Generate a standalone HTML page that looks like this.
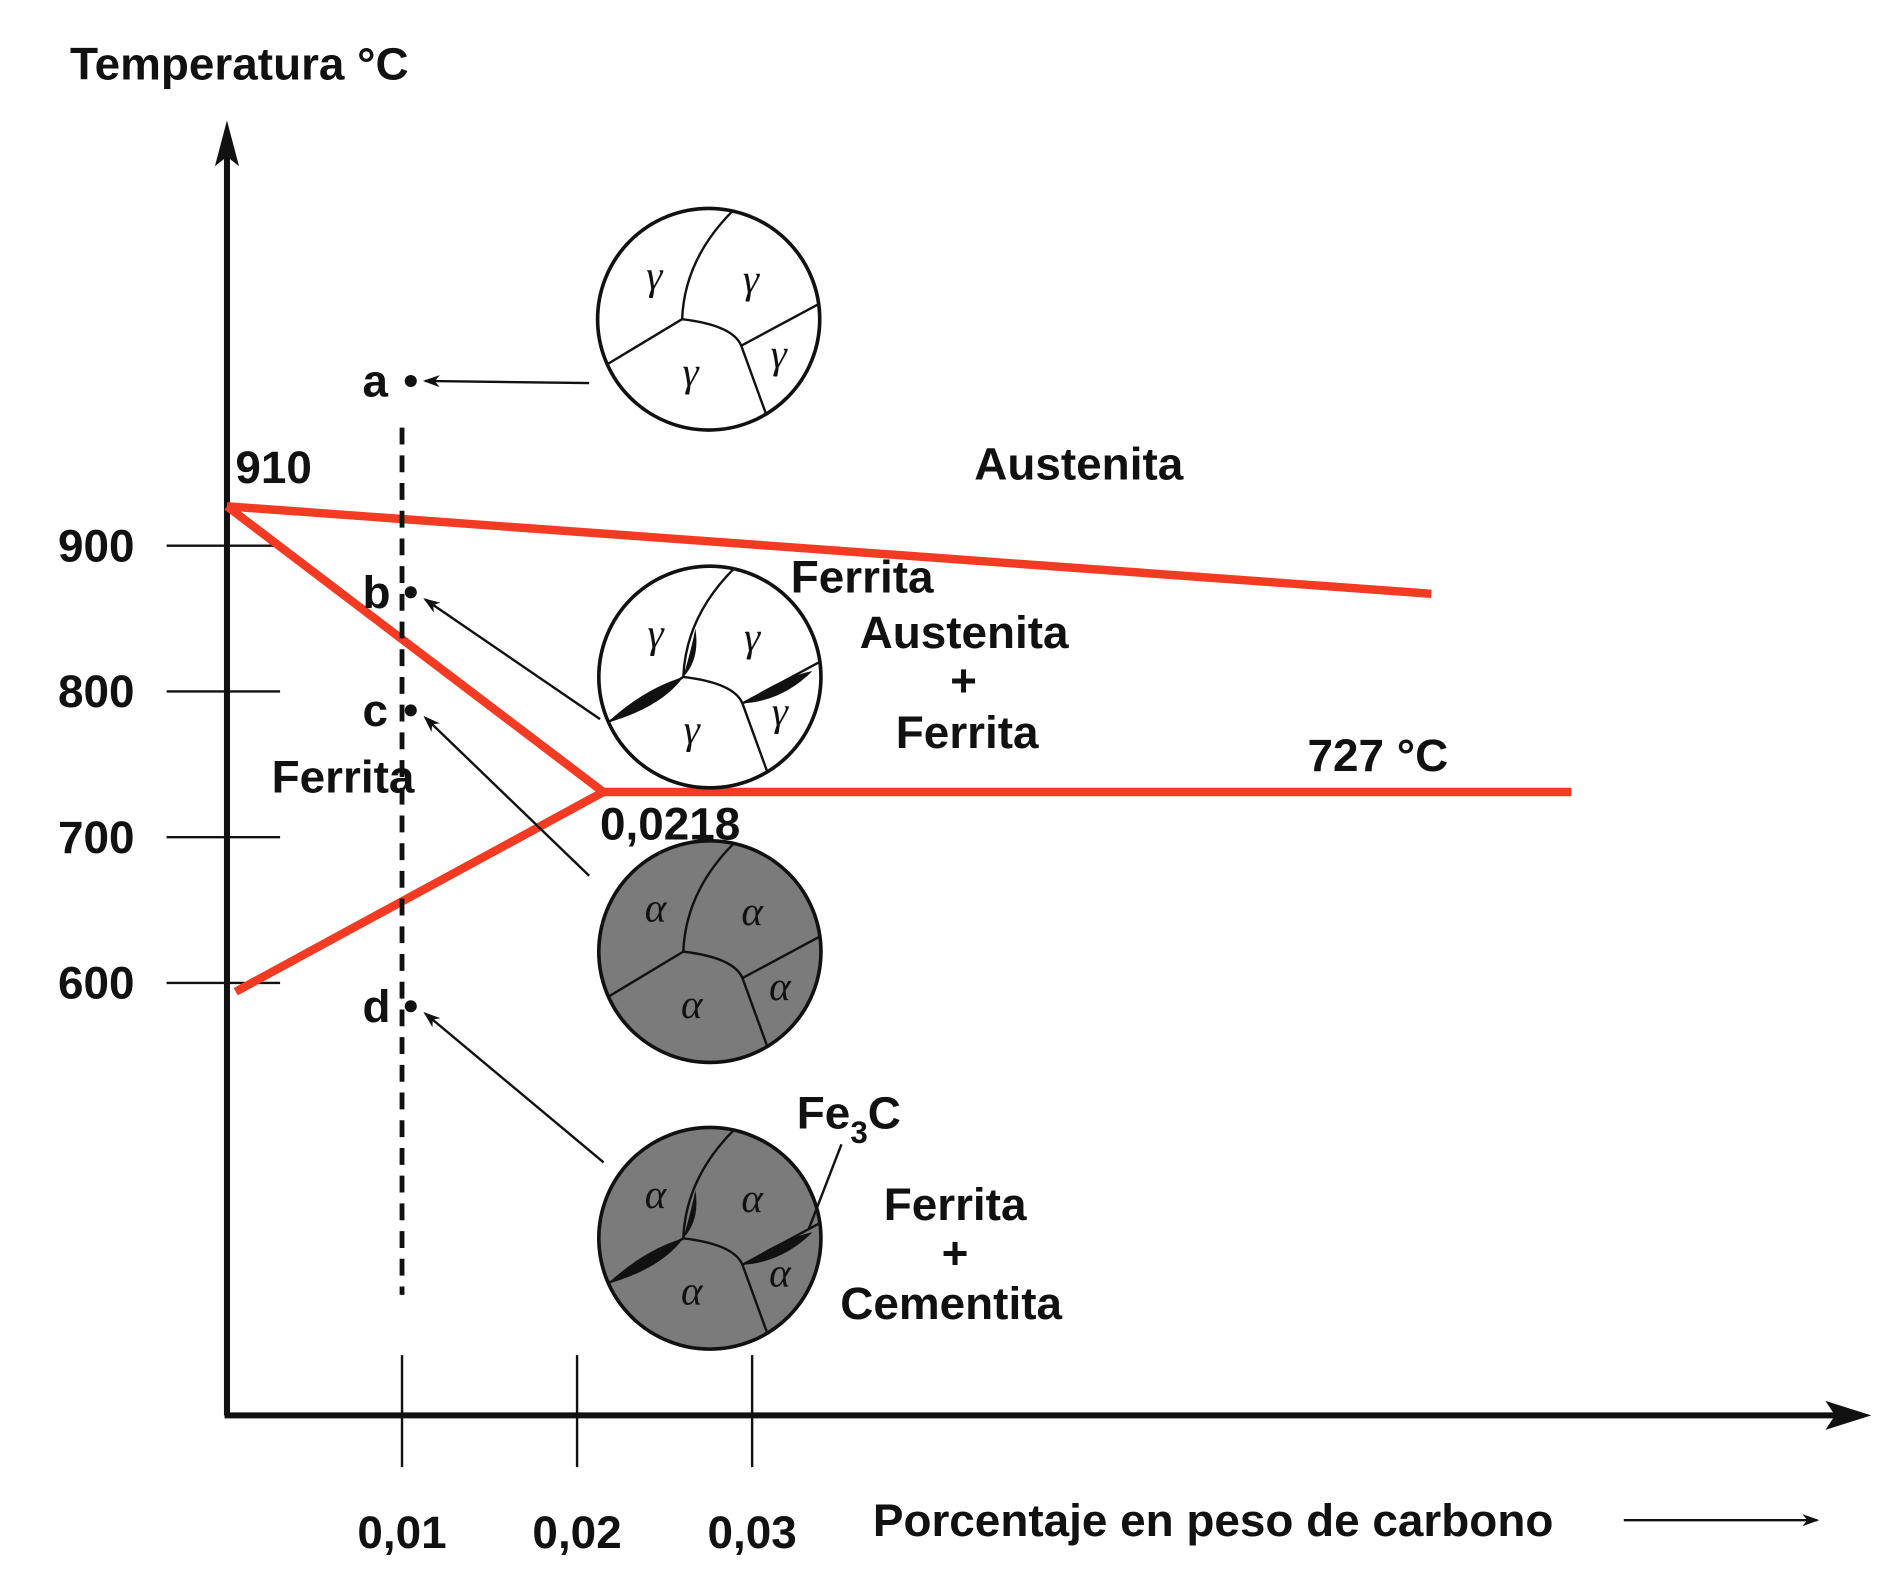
<!DOCTYPE html>
<html><head><meta charset="utf-8">
<style>
html,body{margin:0;padding:0;background:#fff;}
svg{display:block;}
text{font-family:"Liberation Sans",Arial,sans-serif;fill:#111;}
.lbl{font-size:38px;font-weight:bold;}
.g{font-family:"Liberation Serif",serif;font-size:34px;font-style:italic;}
</style></head>
<body>
<svg id="chart" width="1893" height="1578" viewBox="0 0 1568 1310" preserveAspectRatio="none" xmlns="http://www.w3.org/2000/svg">
<defs>
<marker id="ah" markerWidth="14" markerHeight="10" refX="12" refY="5" orient="auto" markerUnits="userSpaceOnUse"><path d="M0,0 L14,5 L0,10 L4,5z" fill="#111"/></marker>
</defs>
<g id="axes"></g>
<g id="phase"></g>
<g id="deco"></g>
<text class="lbl" x="58" y="66">Temperatura °C</text>
<text class="lbl" x="723" y="1275">Porcentaje en peso de carbono</text>
<line x1="1345" y1="1262" x2="1505" y2="1262" stroke="#111" stroke-width="2" marker-end="url(#ah)"/>
<text class="lbl" x="195" y="401">910</text>
<text class="lbl" x="807" y="398">Austenita</text>
<text class="lbl" x="655" y="492">Ferrita</text>
<text class="lbl" x="712" y="538">Austenita</text>
<text class="lbl" x="787" y="578">+</text>
<text class="lbl" x="742" y="621">Ferrita</text>
<text class="lbl" x="1083" y="640">727 °C</text>
<text class="lbl" x="225" y="658">Ferrita</text>
<text class="lbl" x="497" y="697">0,0218</text>
<text class="lbl" x="660" y="937">Fe<tspan font-size="26" dy="12">3</tspan><tspan dy="-12">C</tspan></text>
<text class="lbl" x="732" y="1013">Ferrita</text>
<text class="lbl" x="780" y="1053">+</text>
<text class="lbl" x="696" y="1095">Cementita</text>
</svg>
<script>
const yTicks=[900,800,700,600];
const xTicks=[0.01,0.02,0.03];
const xTickLabels=["0,01","0,02","0,03"];
const upperX=[0,0.0688];
const upperT=[927,867];
const leftX=[0,0.0215];
const leftT=[927,731];
const lowerX=[0.0005,0.0215];
const lowerT=[594,731];
const eutX=[0.0215,0.0768];
const eutT=[731,731];
const ptNames=["a","b","c","d"];
const ptT=[1013,868,787,584];
const ptX=0.0105;

const NS="http://www.w3.org/2000/svg";
const X=v=>188+v/0.01*145;
const Y=t=>453+(900-t)*1.21;
function mk(p,tag,at){const e=document.createElementNS(NS,tag);for(const k in at)e.setAttribute(k,at[k]);p.appendChild(e);return e;}
const ax=document.getElementById('axes');
let e=mk(ax,'line',{x1:188,y1:1175,x2:188,y2:110,stroke:'#111','stroke-width':5});


e=mk(ax,'path',{d:'M188,100 L178,138 L188,130 L198,138z',fill:'#111'});


e=mk(ax,'line',{x1:186,y1:1175,x2:1520,y2:1175,stroke:'#111','stroke-width':5});


e=mk(ax,'path',{d:'M1550,1175 L1512,1163 L1520,1175 L1512,1187z',fill:'#111'});


yTicks.forEach(t=>{
 let l=mk(ax,'line',{x1:138,y1:Y(t),x2:232,y2:Y(t),stroke:'#111','stroke-width':2});
 
 
 let tx=mk(ax,'text',{x:48,y:Y(t)+13,class:'lbl'});tx.textContent=t;
 
 
});
xTicks.forEach((v,i)=>{
 let l=mk(ax,'line',{x1:X(v),y1:1125,x2:X(v),y2:1218,stroke:'#111','stroke-width':2});
 
 
 let tx=mk(ax,'text',{x:X(v),y:1285,class:'lbl','text-anchor':'middle'});tx.textContent=xTickLabels[i];
 
 
});
const ph=document.getElementById('phase');
[[upperX,upperT,'line-a3-upper'],[leftX,leftT,'line-a3'],[lowerX,lowerT,'line-solvus'],[eutX,eutT,'line-eutectoid']].forEach(([xs,ts,n])=>{
 let p=mk(ph,'polyline',{points:xs.map((x,i)=>X(x)+','+Y(ts[i])).join(' '),fill:'none',stroke:'#f23b22','stroke-width':7,'stroke-linecap':'butt'});
 
 
});
e=mk(ph,'line',{x1:333,y1:355,x2:333,y2:1075,stroke:'#111','stroke-width':4,'stroke-dasharray':'14,9'});


const circles=[[587,265,false],[588,562,false],[588,790,true],[588,1028,true]];
const arrowStarts=[[488,318],[497,597],[488,727],[500,965]];
ptNames.forEach((n,i)=>{
 const px=X(ptX),py=Y(ptT[i]);
 let c=mk(ph,'circle',{cx:px,cy:py,r:5,fill:'#111'});
 
 
 let t=mk(ph,'text',{x:px-40,y:py+13,class:'lbl'});t.textContent=n;
 
 
 const [sx,sy]=arrowStarts[i];
 let a=mk(ph,'line',{x1:sx,y1:sy,x2:px+12,y2:py+(i==0?0:6),stroke:'#111','stroke-width':2,'marker-end':'url(#ah)'});
 
 
});
const dg=document.getElementById('deco');
circles.forEach(([cx,cy,gray],i)=>{
 let c=mk(dg,'circle',{cx,cy,r:92,fill:gray?'#7b7b7b':'#fff',stroke:'#111','stroke-width':3});
 
 
 let p=mk(dg,'path',{d:`M${cx+20},${cy-90} Q${cx-20},${cy-50} ${cx-22},${cy} M${cx-22},${cy} L${cx-85},${cy+38} M${cx-22},${cy} Q${cx+20},${cy+5} ${cx+27},${cy+22} L${cx+48},${cy+80} M${cx+27},${cy+22} L${cx+90},${cy-12}`,fill:'none',stroke:'#111','stroke-width':2});
 
 
 if(i==1||i==3){
  let b=mk(dg,'path',{d:`M${cx-85},${cy+38} Q${cx-55},${cy+10} ${cx-22},${cy} Q${cx-40},${cy+25} ${cx-85},${cy+38}z M${cx+27},${cy+22} Q${cx+60},${cy} ${cx+85},${cy-5} Q${cx+60},${cy+20} ${cx+27},${cy+22}z M${cx-22},${cy} Q${cx-15},${cy-25} ${cx-12},${cy-40} Q${cx-8},${cy-15} ${cx-22},${cy}z`,fill:'#111'});
  
  
 }
 const s=gray?'α':'γ';
 [[-45,-25],[35,-22],[-15,55],[58,40]].forEach(([dx,dy])=>{
  let t=mk(dg,'text',{x:cx+dx,y:cy+dy,class:'g','text-anchor':'middle'});t.textContent=s;
  
  
 });
});
e=mk(dg,'line',{x1:697,y1:950,x2:670,y2:1020,stroke:'#111','stroke-width':2});


</script>
</body></html>
